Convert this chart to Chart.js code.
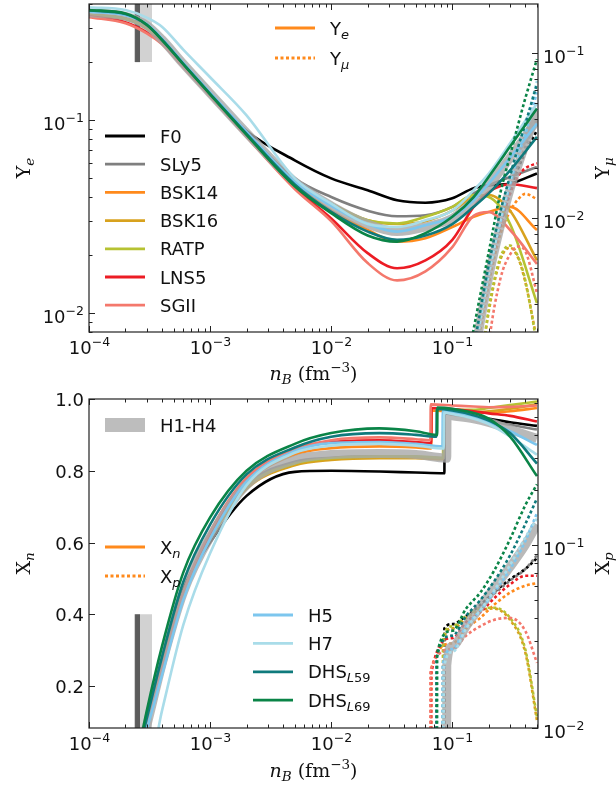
<!DOCTYPE html>
<html>
<head>
<meta charset="utf-8">
<script src="https://cdn.jsdelivr.net/npm/chart.js@4.4.1/dist/chart.umd.min.js"></script>
<style>
  html, body { margin: 0; padding: 0; background: #fff; }
  #wrap { position: relative; width: 616px; height: 787px; }
  canvas { position: absolute; left: 0; }
  #c1 { top: 0; }
  #c2 { top: 385px; }
</style>
</head>
<body>
<div id="wrap">
  <canvas id="c1" width="616" height="385"></canvas>
  <canvas id="c2" width="616" height="402"></canvas>
</div>
<script>
// ---- data -------------------------------------------------------------
const models = ['F0', 'SLy5', 'BSK14', 'BSK16', 'RATP', 'LNS5', 'SGII', 'H1-H4', 'H5', 'H7', 'DHS_L59', 'DHS_L69'];

// crust-core transition density of each model (fm^-3)
const nTrans = [0.086, 0.086, 0.067, 0.084, 0.084, 0.067, 0.066, 0.09, 0.083, 0.085, 0.074, 0.075];

// neutron drip region marker
const dripBand = [2.35e-4, 3.32e-4];
const dripCore = [2.40e-4, 2.64e-4];
const dripYe = [0.2, 0.4];
const dripXn = 0.4;

// sampling densities (fm^-3)
const nBYe = [1e-4, 2e-4, 3e-4, 4e-4, 6e-4, 1e-3, 2e-3, 5e-3, 1e-2, 2e-2, 3.5e-2, 6e-2, 0.1, 0.15, 0.2, 0.3, 0.5];
const nBMu = [0.1, 0.12, 0.14, 0.16, 0.2, 0.25, 0.3, 0.35, 0.4, 0.5];
const nBXnLow = [2.5e-4, 3e-4, 4e-4, 6e-4, 1e-3, 2e-3, 5e-3, 1e-2, 2.5e-2, 5e-2];
const nBXnHigh = [0.1, 0.15, 0.2, 0.3, 0.5];
const nBXp = [0.1, 0.13, 0.17, 0.22, 0.3, 0.4, 0.5];

// electron fraction Ye on nBYe
const yeValues = [
  [0.350, 0.335, 0.300, 0.258, 0.194, 0.137, 0.088, 0.062, 0.050, 0.0434, 0.0385, 0.0374, 0.0394, 0.0445, 0.046, 0.047, 0.053],
  [0.350, 0.335, 0.300, 0.258, 0.193, 0.136, 0.086, 0.050, 0.040, 0.034, 0.0318, 0.0322, 0.0356, 0.0418, 0.046, 0.0508, 0.0573],
  [0.352, 0.336, 0.300, 0.257, 0.192, 0.135, 0.084, 0.047, 0.034, 0.027, 0.0235, 0.0245, 0.028, 0.0316, 0.0335, 0.0356, 0.027],
  [0.352, 0.336, 0.300, 0.258, 0.193, 0.136, 0.085, 0.048, 0.037, 0.0303, 0.029, 0.030, 0.034, 0.040, 0.041, 0.034, 0.0188],
  [0.350, 0.335, 0.300, 0.258, 0.193, 0.136, 0.085, 0.048, 0.037, 0.0303, 0.0292, 0.0316, 0.0356, 0.041, 0.040, 0.029, 0.0113],
  [0.345, 0.322, 0.285, 0.250, 0.190, 0.134, 0.083, 0.045, 0.031, 0.0205, 0.0171, 0.0188, 0.024, 0.0356, 0.0425, 0.0466, 0.0445],
  [0.342, 0.318, 0.282, 0.248, 0.188, 0.133, 0.082, 0.044, 0.030, 0.0182, 0.0148, 0.0165, 0.022, 0.032, 0.0335, 0.027, 0.018],
  [0.360, 0.345, 0.310, 0.262, 0.196, 0.138, 0.086, 0.048, 0.036, 0.029, 0.0265, 0.028, 0.031, 0.038, 0.046, 0.064, 0.100],
  [0.365, 0.350, 0.315, 0.265, 0.198, 0.139, 0.087, 0.048, 0.036, 0.029, 0.0265, 0.0286, 0.0316, 0.0385, 0.047, 0.064, 0.096],
  [0.385, 0.372, 0.340, 0.305, 0.232, 0.167, 0.106, 0.050, 0.037, 0.029, 0.028, 0.0303, 0.034, 0.0434, 0.053, 0.076, 0.122],
  [0.370, 0.355, 0.312, 0.262, 0.196, 0.137, 0.085, 0.0465, 0.0335, 0.0265, 0.024, 0.0253, 0.029, 0.0356, 0.0418, 0.055, 0.082],
  [0.372, 0.357, 0.312, 0.260, 0.195, 0.136, 0.084, 0.0455, 0.033, 0.0253, 0.0235, 0.026, 0.0316, 0.040, 0.051, 0.073, 0.115]
];

// muon fraction Ymu on nBMu
const ymuValues = [
  [0.0002, 0.0005, 0.0010, 0.0018, 0.0045, 0.0090, 0.0150, 0.0200, 0.0250, 0.0340],
  [0.0002, 0.0005, 0.0010, 0.0018, 0.0045, 0.0092, 0.0155, 0.0210, 0.0270, 0.0400],
  [0.0002, 0.0004, 0.0009, 0.0016, 0.0040, 0.0080, 0.0110, 0.0130, 0.0140, 0.0130],
  [0.00002, 0.0001, 0.0003, 0.0008, 0.0027, 0.0056, 0.0066, 0.0057, 0.0041, 0.0018],
  [0.00002, 0.0001, 0.0003, 0.0008, 0.0028, 0.0058, 0.0068, 0.0058, 0.0042, 0.0017],
  [0.0002, 0.0005, 0.0010, 0.0018, 0.0045, 0.0090, 0.0140, 0.0180, 0.0200, 0.0215],
  [0.00001, 0.00005, 0.0001, 0.0003, 0.0017, 0.0043, 0.0060, 0.0067, 0.0063, 0.0035],
  [0.0002, 0.0005, 0.0010, 0.0018, 0.0044, 0.0090, 0.0150, 0.0210, 0.0280, 0.0450],
  [0.0002, 0.0005, 0.0011, 0.0019, 0.0046, 0.0095, 0.0160, 0.0240, 0.0320, 0.0580],
  [0.0002, 0.0005, 0.0010, 0.0018, 0.0045, 0.0098, 0.0170, 0.0260, 0.0360, 0.0680],
  [0.0002, 0.0006, 0.0012, 0.0021, 0.0052, 0.0110, 0.0180, 0.0270, 0.0370, 0.0650],
  [0.0003, 0.0008, 0.0016, 0.0027, 0.0062, 0.0143, 0.0240, 0.0370, 0.0530, 0.0920]
];

// neutron fraction Xn: nBXnLow, just below / above nTrans, nBXnHigh
const xnValues = [
  [0, 0.10, 0.27, 0.47, 0.60, 0.73, 0.797, 0.800, 0.798, 0.795, 0.793, 0.960, 0.958, 0.950, 0.945, 0.935, 0.925],
  [0, 0.09, 0.26, 0.46, 0.61, 0.76, 0.825, 0.836, 0.840, 0.838, 0.835, 0.962, 0.957, 0.948, 0.940, 0.928, 0.915],
  [0, 0.09, 0.25, 0.455, 0.62, 0.765, 0.845, 0.863, 0.868, 0.865, 0.862, 0.968, 0.965, 0.962, 0.962, 0.966, 0.975],
  [0, 0.09, 0.26, 0.46, 0.61, 0.75, 0.815, 0.830, 0.835, 0.835, 0.832, 0.965, 0.963, 0.963, 0.966, 0.973, 0.985],
  [0, 0.09, 0.26, 0.46, 0.61, 0.755, 0.82, 0.835, 0.840, 0.840, 0.836, 0.972, 0.970, 0.970, 0.975, 0.983, 0.993],
  [0, 0.09, 0.25, 0.46, 0.625, 0.775, 0.855, 0.880, 0.885, 0.880, 0.877, 0.975, 0.972, 0.966, 0.960, 0.953, 0.937],
  [0, 0.09, 0.25, 0.46, 0.63, 0.78, 0.86, 0.885, 0.893, 0.888, 0.885, 0.985, 0.982, 0.979, 0.977, 0.978, 0.982],
  [0, 0.09, 0.26, 0.46, 0.615, 0.76, 0.83, 0.845, 0.848, 0.845, 0.835, 0.955, 0.953, 0.945, 0.935, 0.915, 0.890],
  [0, 0.08, 0.23, 0.44, 0.61, 0.77, 0.855, 0.877, 0.880, 0.875, 0.868, 0.967, 0.963, 0.950, 0.935, 0.910, 0.872],
  [0, -0.05, 0.13, 0.37, 0.57, 0.76, 0.85, 0.870, 0.875, 0.870, 0.862, 0.962, 0.958, 0.945, 0.930, 0.895, 0.845],
  [0, 0.11, 0.28, 0.49, 0.65, 0.79, 0.865, 0.895, 0.905, 0.900, 0.895, 0.972, 0.968, 0.955, 0.940, 0.905, 0.820],
  [0, 0.131, 0.31, 0.516, 0.67, 0.80, 0.875, 0.905, 0.918, 0.910, 0.900, 0.976, 0.973, 0.961, 0.945, 0.895, 0.785]
];

// proton fraction Xp: value at nTrans, then on nBXp (no protons below nTrans)
const xpBelow = 1e-3;
const xpValues = [
  [0.035, 0.037, 0.041, 0.047, 0.055, 0.065, 0.074, 0.085],
  [0.032, 0.035, 0.040, 0.046, 0.054, 0.064, 0.074, 0.088],
  [0.021, 0.029, 0.035, 0.040, 0.047, 0.055, 0.060, 0.062],
  [0.030, 0.035, 0.040, 0.044, 0.045, 0.039, 0.026, 0.011],
  [0.031, 0.036, 0.041, 0.045, 0.0455, 0.040, 0.027, 0.0115],
  [0.020, 0.031, 0.038, 0.043, 0.051, 0.061, 0.068, 0.068],
  [0.0207, 0.027, 0.032, 0.036, 0.039, 0.040, 0.034, 0.0227],
  [0.022, 0.028, 0.036, 0.046, 0.058, 0.076, 0.100, 0.130],
  [0.022, 0.027, 0.036, 0.044, 0.055, 0.074, 0.105, 0.150],
  [0.021, 0.026, 0.035, 0.044, 0.056, 0.078, 0.110, 0.140],
  [0.024, 0.032, 0.041, 0.050, 0.063, 0.088, 0.130, 0.180],
  [0.0257, 0.034, 0.045, 0.055, 0.072, 0.108, 0.165, 0.215]
];

const xnTicks = [0.2, 0.4, 0.6, 0.8, 1.0];
const xnTickLabels = ['0.2', '0.4', '0.6', '0.8', '1.0'];

// ---- styles -----------------------------------------------------------
const colors = {
  'F0': '#000000', 'SLy5': '#7f7f7f', 'BSK14': '#ff8a1c', 'BSK16': '#d8a21e', 'RATP': '#b6c232',
  'LNS5': '#ec1c24', 'SGII': '#f4786c', 'H1-H4': 'rgba(168,168,168,0.8)', 'H5': '#7cc6ee',
  'H7': '#a9dce9', 'DHS_L59': '#0f7a7c', 'DHS_L69': '#0a8447'
};
const DOTS = [3, 2.5];
const SANS = '"DejaVu Sans", sans-serif';
const SERIF = '"DejaVu Serif", serif';

function pts(xs, ys) { return xs.map((x, i) => ({ x: x, y: ys[i] })); }

function curve(m, i, data, axis, dotted) {
  const band = m === 'H1-H4';
  return {
    data: data, yAxisID: axis,
    borderColor: colors[m],
    borderWidth: band ? 9 : 2.6,
    borderDash: dotted && !band ? DOTS : [],
    borderCapStyle: 'butt',
    pointRadius: 0, fill: false, clip: 0,
    cubicInterpolationMode: 'monotone',
    order: 100 - i
  };
}

function block(xr, y, fill, color, axis, order) {
  return {
    data: [{ x: xr[0], y: y }, { x: xr[1], y: y }], yAxisID: axis,
    backgroundColor: color, borderColor: 'rgba(0,0,0,0)', borderWidth: 1,
    fill: fill, pointRadius: 0, clip: 0, order: order
  };
}

// light band underneath, dark core on top of it
const topSets = [
  block(dripBand, dripYe[1], { value: dripYe[0] }, '#d2d2d2', 'y', 1001),
  block(dripCore, dripYe[1], { value: dripYe[0] }, '#5c5c5c', 'y', 1000)
];
const botSets = [
  block(dripBand, dripXn, 'start', '#d2d2d2', 'y', 1001),
  block(dripCore, dripXn, 'start', '#5c5c5c', 'y', 1000)
];

models.forEach((m, i) => {
  topSets.push(curve(m, i, pts(nBYe, yeValues[i]), 'y', false));
  topSets.push(curve(m, i, pts(nBMu, ymuValues[i]), 'y2', true));

  const t = nTrans[i];
  const xs = nBXnLow.concat([t, t * 1.005], nBXnHigh);
  botSets.push(curve(m, i, pts(xs, xnValues[i]), 'y', false));

  const xp = [{ x: t * 0.995, y: xpBelow }].concat(pts([t].concat(nBXp), xpValues[i]));
  botSets.push(curve(m, i, xp, 'y2', true));
});

// ---- drawing helpers --------------------------------------------------
function T(t, size, fam, style, dy) {
  return { t: t, font: (style || '') + ' ' + size + 'px ' + fam, dy: dy || 0 };
}

function rich(ctx, parts, x, y, align) {
  let w = 0;
  parts.forEach(p => { ctx.font = p.font; p.w = ctx.measureText(p.t).width; w += p.w; });
  let cx = align === 'center' ? x - w / 2 : align === 'right' ? x - w : x;
  ctx.textAlign = 'left';
  ctx.textBaseline = 'alphabetic';
  parts.forEach(p => { ctx.font = p.font; ctx.fillText(p.t, cx, y + p.dy); cx += p.w; });
}

function powParts(e) {
  return [T('10', 18, SANS), T('\u2212' + Math.abs(e), 12.5, SANS, '', -8)];
}

function seg(ctx, x1, y1, x2, y2) {
  ctx.beginPath(); ctx.moveTo(x1, y1); ctx.lineTo(x2, y2); ctx.stroke();
}

function logTicks(min, max) {
  const out = [];
  for (let e = Math.floor(Math.log10(min)); e <= Math.ceil(Math.log10(max)); e++) {
    for (let k = 1; k <= 9; k++) {
      const v = k * Math.pow(10, e);
      if (v >= min * 0.999 && v <= max * 1.001) out.push({ v: v, e: e, major: k === 1 });
    }
  }
  return out;
}

function yTicks(ctx, chart, id, side, spec) {
  const s = chart.scales[id], a = chart.chartArea;
  const x0 = side === 'left' ? a.left : a.right;
  const dir = side === 'left' ? 1 : -1;
  const ticks = spec.log ? logTicks(s.min, s.max)
    : spec.values.map((v, i) => ({ v: v, major: true, label: spec.labels[i] }));
  ticks.forEach(t => {
    const p = Math.round(s.getPixelForValue(t.v)) + 0.5;
    seg(ctx, x0, p, x0 + dir * (t.major ? 6 : 3.5), p);
    if (!t.major) return;
    const parts = spec.log ? powParts(t.e) : [T(t.label, 18, SANS)];
    rich(ctx, parts, side === 'left' ? x0 - 5 : x0 + 5, p + (spec.log ? 9 : 6.5),
      side === 'left' ? 'right' : 'left');
  });
}

function vTitle(ctx, parts, x, y) {
  ctx.save();
  ctx.translate(x, y);
  ctx.rotate(-Math.PI / 2);
  rich(ctx, parts, 0, 0, 'center');
  ctx.restore();
}

function keyLine(ctx, x1, x2, y, color, dotted) {
  ctx.save();
  ctx.strokeStyle = color;
  ctx.lineWidth = 2.8;
  ctx.setLineDash(dotted ? DOTS : []);
  seg(ctx, x1, y, x2, y);
  ctx.restore();
}

function keyText(name) {
  if (name.indexOf('DHS_') === 0) {
    return [T('DHS', 18, SANS), T('L', 13, SANS, 'italic', 4), T(name.slice(5), 13, SANS, '', 4)];
  }
  return [T(name, 18, SANS)];
}

const xTitle = [T('n', 19, SERIF, 'italic'), T('B', 13.5, SERIF, 'italic', 4), T(' (fm', 19, SERIF),
  T('\u22123', 13.5, SERIF, '', -8), T(')', 19, SERIF)];

const frame = {
  id: 'frame',
  afterDraw(chart, args, opts) {
    const ctx = chart.ctx, a = chart.chartArea, sx = chart.scales.x;
    ctx.save();
    ctx.fillStyle = '#111';
    ctx.strokeStyle = '#222';
    ctx.lineWidth = 1;
    logTicks(sx.min, sx.max).forEach(t => {
      const p = Math.round(sx.getPixelForValue(t.v)) + 0.5;
      const len = t.major ? 6 : 3.5;
      seg(ctx, p, a.bottom, p, a.bottom - len);
      seg(ctx, p, a.top, p, a.top + len);
      if (t.major) rich(ctx, powParts(t.e), p, a.bottom + 22, 'center');
    });
    yTicks(ctx, chart, 'y', 'left', opts.left);
    yTicks(ctx, chart, 'y2', 'right', opts.right);
    ctx.lineWidth = 1.2;
    ctx.strokeRect(a.left, a.top, a.right - a.left, a.bottom - a.top);

    rich(ctx, xTitle, (a.left + a.right) / 2, a.bottom + opts.xTitleGap, 'center');
    vTitle(ctx, opts.leftTitle, 30, (a.top + a.bottom) / 2);
    vTitle(ctx, opts.rightTitle, 609, (a.top + a.bottom) / 2);
    opts.key(ctx);
    ctx.restore();
  }
};

function baseOptions(padding, yScale, y2Scale, frameOpts) {
  return {
    responsive: false, animation: false, events: [],
    layout: { padding: padding },
    scales: {
      x: { type: 'logarithmic', min: 1e-4, max: 0.51, display: false },
      y: Object.assign({ display: false }, yScale),
      y2: Object.assign({ display: false, position: 'right' }, y2Scale)
    },
    plugins: { legend: { display: false }, tooltip: { enabled: false }, frame: frameOpts }
  };
}

// ---- top panel: Ye and Ymu --------------------------------------------
new Chart(document.getElementById('c1'), {
  type: 'line',
  data: { datasets: topSets },
  options: baseOptions(
    { left: 89, right: 78, top: 4, bottom: 53 },
    { type: 'logarithmic', min: 0.008, max: 0.40 },
    { type: 'logarithmic', min: 0.00203, max: 0.199 },
    {
      left: { log: true }, right: { log: true }, xTitleGap: 48,
      leftTitle: [T('Y', 19, SERIF), T('e', 13.5, SERIF, 'italic', 4)],
      rightTitle: [T('Y', 19, SERIF), T('\u03bc', 13.5, SERIF, 'italic', 4)],
      key(ctx) {
        models.slice(0, 7).forEach((m, i) => {
          const y = 136 + i * 28.2;
          keyLine(ctx, 105, 145, y, colors[m], false);
          rich(ctx, keyText(m), 160, y + 6.5, 'left');
        });
        keyLine(ctx, 275, 315, 28, colors.BSK14, false);
        rich(ctx, [T('Y', 18, SANS), T('e', 13, SANS, 'italic', 4)], 330, 34.5, 'left');
        keyLine(ctx, 275, 315, 58, colors.BSK14, true);
        rich(ctx, [T('Y', 18, SANS), T('\u03bc', 13, SANS, 'italic', 4)], 330, 64.5, 'left');
      }
    }
  ),
  plugins: [frame]
});

// ---- bottom panel: Xn and Xp ------------------------------------------
new Chart(document.getElementById('c2'), {
  type: 'line',
  data: { datasets: botSets },
  options: baseOptions(
    { left: 89, right: 78, top: 14, bottom: 59 },
    { type: 'linear', min: 0.083, max: 1.0 },
    { type: 'logarithmic', min: 0.01, max: 0.63 },
    {
      left: { log: false, values: xnTicks, labels: xnTickLabels },
      right: { log: true }, xTitleGap: 49,
      leftTitle: [T('X', 19, SERIF), T('n', 13.5, SERIF, 'italic', 4)],
      rightTitle: [T('X', 19, SERIF), T('p', 13.5, SERIF, 'italic', 4)],
      key(ctx) {
        ctx.save();
        ctx.fillStyle = '#bdbdbd';
        ctx.fillRect(105, 33, 40, 14);
        ctx.restore();
        rich(ctx, keyText('H1-H4'), 160, 46.5, 'left');
        keyLine(ctx, 105, 145, 162, colors.BSK14, false);
        rich(ctx, [T('X', 18, SANS), T('n', 13, SANS, 'italic', 4)], 160, 168.5, 'left');
        keyLine(ctx, 105, 145, 191, colors.BSK14, true);
        rich(ctx, [T('X', 18, SANS), T('p', 13, SANS, 'italic', 4)], 160, 197.5, 'left');
        ['H5', 'H7', 'DHS_L59', 'DHS_L69'].forEach((m, i) => {
          const y = 230 + i * 28.4;
          keyLine(ctx, 253, 293, y, colors[m], false);
          rich(ctx, keyText(m), 308, y + 6.5, 'left');
        });
      }
    }
  ),
  plugins: [frame]
});
</script>
</body>
</html>
